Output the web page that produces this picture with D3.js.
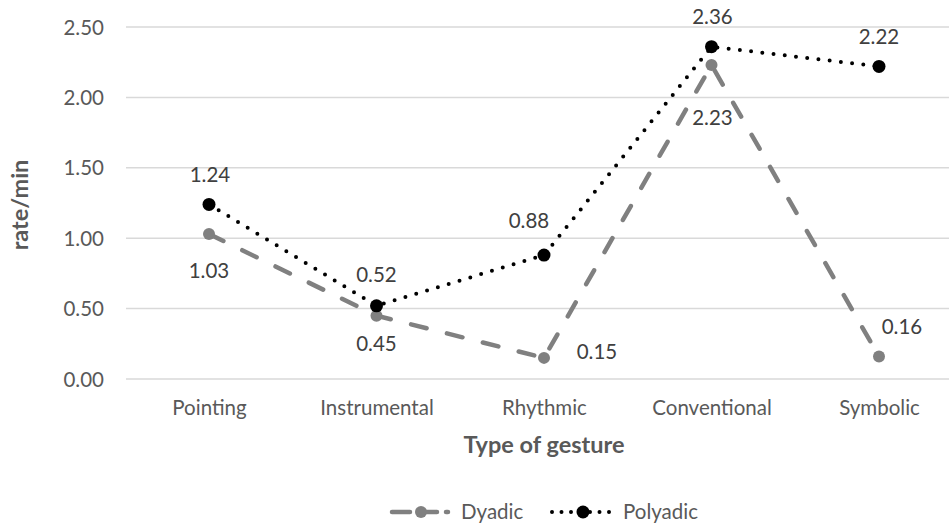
<!DOCTYPE html>
<html><head><meta charset="utf-8">
<script src="https://cdn.jsdelivr.net/npm/d3@7"></script>
<style>body{margin:0;background:#fff}svg{display:block}text{font-family:Lato,"Open Sans",sans-serif}</style>
</head><body><svg id="c" width="949" height="523"></svg>
<script>
const categories = ["Pointing","Instrumental","Rhythmic","Conventional","Symbolic"];
const dyadic = [1.03,0.45,0.15,2.23,0.16];
const polyadic = [1.24,0.52,0.88,2.36,2.22];
const yTicks = [0,0.5,1,1.5,2,2.5];
// label offsets (layout only)
const dyadicLabelOff = [[0,37],[0,28],[53,-6],[1,53],[23,-30]];
const polyadicLabelOff = [[1,-30],[0,-31],[-15,-34],[1,-30],[0,-30]];

const svg = d3.select("#c");
const x = d3.scalePoint().domain(categories).range([209,879]);
const y = d3.scaleLinear().domain([0,2.5]).range([379,27]);
const fmt = d3.format(".2f");
const FS = "20.5px";

svg.append("g").selectAll("line").data(yTicks).join("line")
  .attr("x1",126).attr("x2",949).attr("y1",d=>y(d)).attr("y2",d=>y(d))
  .attr("stroke","#d9d9d9").attr("stroke-width",1.5);

const yAxis = d3.axisLeft(y).tickValues(yTicks).tickFormat(fmt).tickSize(0).tickPadding(0);
const ga = svg.append("g").attr("transform","translate(104,0)").call(yAxis);
ga.select(".domain").remove();
ga.selectAll("text").attr("fill","#595959").style("font-size",FS).style("font-family","Lato").attr("dy","0.35em");

const xAxis = d3.axisBottom(x).tickSize(0).tickPadding(0);
const gx = svg.append("g").attr("transform","translate(0,408)").call(xAxis);
gx.select(".domain").remove();
gx.selectAll("text").attr("fill","#595959").style("font-size",FS).style("font-family","Lato").attr("dy","0.35em");

svg.append("text").attr("x",544).attr("y",445).attr("dy","0.35em").attr("text-anchor","middle")
  .attr("fill","#595959").style("font-size","23.5px").style("font-weight","bold").text("Type of gesture");
svg.append("text").attr("transform","translate(20,205) rotate(-90)").attr("dy","0.35em").attr("text-anchor","middle")
  .attr("fill","#595959").style("font-size","23.5px").style("font-weight","bold").text("rate/min");

const line = d3.line().x((d,i)=>x(categories[i])).y(d=>y(d));

svg.append("path").datum(dyadic).attr("d",line).attr("fill","none")
  .attr("stroke","#808080").attr("stroke-width",4.5).attr("stroke-dasharray","16 21").attr("stroke-linecap","round");
svg.append("path").datum(polyadic).attr("d",line).attr("fill","none")
  .attr("stroke","#000").attr("stroke-width",4).attr("stroke-dasharray","0 11.3").attr("stroke-linecap","round");

svg.append("g").selectAll("circle").data(dyadic).join("circle")
  .attr("cx",(d,i)=>x(categories[i])).attr("cy",d=>y(d)).attr("r",6).attr("fill","#808080");
svg.append("g").selectAll("circle").data(polyadic).join("circle")
  .attr("cx",(d,i)=>x(categories[i])).attr("cy",d=>y(d)).attr("r",6.5).attr("fill","#000");

function labels(data,off){
  svg.append("g").selectAll("text").data(data).join("text")
    .attr("x",(d,i)=>x(categories[i])+off[i][0])
    .attr("y",(d,i)=>y(d)+off[i][1])
    .attr("text-anchor","middle").attr("dy","0.35em")
    .attr("fill","#404040").style("font-size",FS).text(d=>fmt(d));
}
labels(dyadic,dyadicLabelOff);
labels(polyadic,polyadicLabelOff);

const lg = svg.append("g");
lg.append("line").attr("x1",392).attr("x2",448).attr("y1",512).attr("y2",512)
  .attr("stroke","#808080").attr("stroke-width",4.5).attr("stroke-dasharray","18 9").attr("stroke-linecap","round");
lg.append("circle").attr("cx",421).attr("cy",512).attr("r",6).attr("fill","#808080");
lg.append("text").attr("x",461).attr("y",512).attr("dy","0.35em").attr("fill","#595959").style("font-size",FS).text("Dyadic");
lg.append("line").attr("x1",552).attr("x2",612).attr("y1",512).attr("y2",512)
  .attr("stroke","#000").attr("stroke-width",4).attr("stroke-dasharray","0 9.5").attr("stroke-linecap","round");
lg.append("circle").attr("cx",583).attr("cy",512).attr("r",6.5).attr("fill","#000");
lg.append("text").attr("x",623).attr("y",512).attr("dy","0.35em").attr("fill","#595959").style("font-size",FS).text("Polyadic");
</script></body></html>
